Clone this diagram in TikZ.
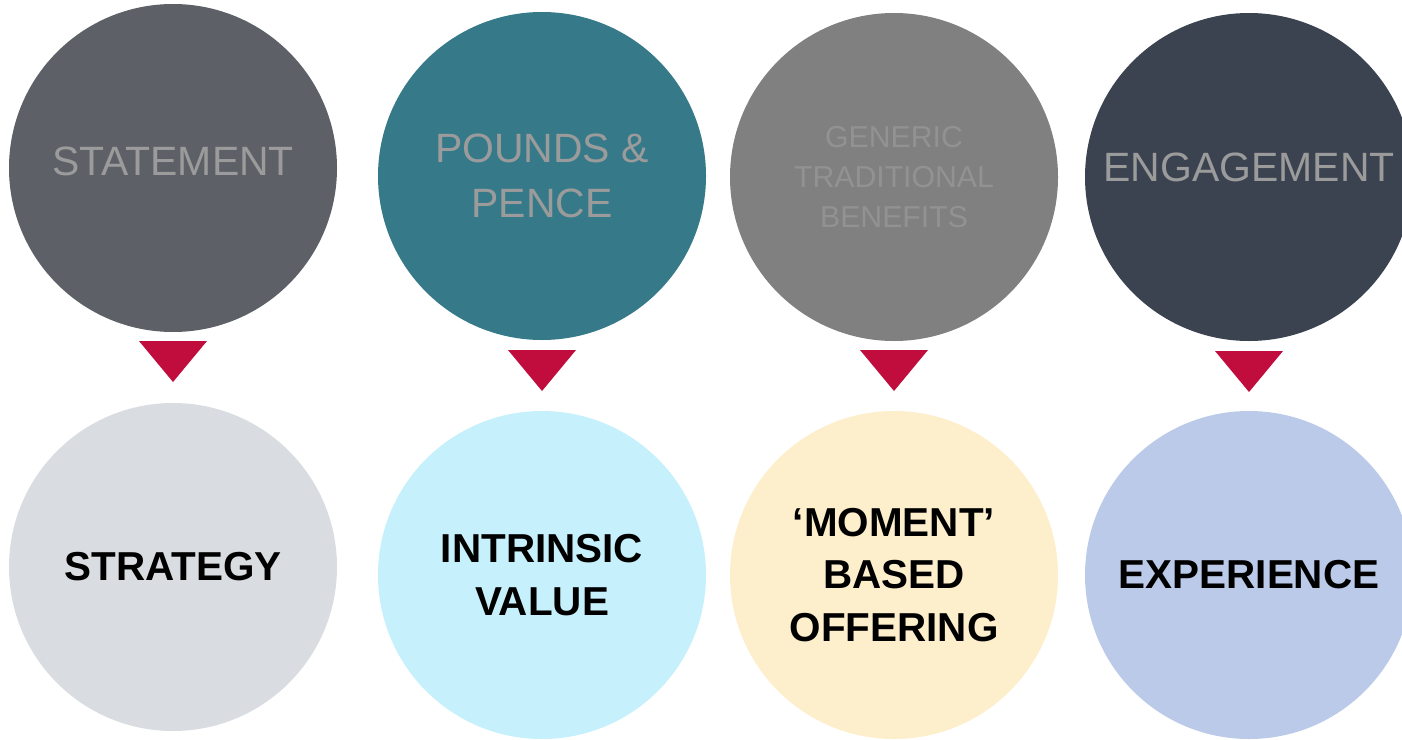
\documentclass[tikz,border=0pt]{standalone}
\usepackage{fontspec}
\setmainfont{Liberation Sans}
\usepackage{xcolor}
\usepackage{tikz}
\usetikzlibrary{shapes}
\usetikzlibrary{positioning}
\definecolor{statement}{HTML}{5D6066}
\definecolor{pounds}{HTML}{367A89}
\definecolor{generic}{HTML}{808080}
\definecolor{engagement}{HTML}{3B4250}
\definecolor{strategy}{HTML}{D9DCE1}
\definecolor{intrinsic}{HTML}{C6F1FC}
\definecolor{moment}{HTML}{FEEFCC}
\definecolor{experience}{HTML}{BACAE8}
\definecolor{arrowred}{HTML}{C00D3D}
\definecolor{toptext}{HTML}{9B9B9B}
\tikzstyle{topcircle} = [circle, minimum size=6.56cm, inner sep=0pt, outer sep=0pt,
text=toptext, align=center, font=\fontsize{23.3}{31}\selectfont]
\tikzstyle{botcircle} = [circle, minimum size=6.56cm, inner sep=0pt, outer sep=0pt,
text=black, align=center, font=\fontsize{23}{30}\selectfont\bfseries]
\tikzstyle{pointer} = [isosceles triangle, isosceles triangle stretches,
shape border rotate=270, fill=arrowred, minimum width=1.36cm,
minimum height=0.82cm, inner sep=0pt, outer sep=0pt]

\begin{document}
\begin{tikzpicture}
  \useasboundingbox (0,0) rectangle (28.04,-14.78);
  % top row
  \node[topcircle, fill=statement, text depth=0.26cm] (S1) at (3.46,-3.36) {STATEMENT};
  \node[topcircle, fill=pounds, right = 0.82cm of S1, yshift = -0.16cm] (S2) {POUNDS \&\\PENCE};
  \node[topcircle, fill=generic, right = 0.48cm of S2, yshift = -0.02cm,
    text=toptext!94!black, font=\fontsize{17.2}{22.7}\selectfont] (S3) {GENERIC\\TRADITIONAL\\BENEFITS};
  \node[topcircle, fill=engagement, right = 0.54cm of S3, text depth=0.4cm] (S4) {ENGAGEMENT};
  % pointers
  \node[pointer, below = 0.18cm of S1] (T1) {};
  \node[pointer, below = 0.2cm of S2] (T2) {};
  \node[pointer, below = 0.18cm of S3] (T3) {};
  \node[pointer, below = 0.2cm of S4] (T4) {};
  % bottom row
  \node[botcircle, fill=strategy, below = 1.42cm of S1] (B1) {STRATEGY};
  \node[botcircle, fill=intrinsic, below = 1.42cm of S2] (B2) {INTRINSIC\\VALUE};
  \node[botcircle, fill=moment, below = 1.40cm of S3] (B3) {‘MOMENT’\\BASED\\OFFERING};
  \node[botcircle, fill=experience, below = 1.40cm of S4] (B4) {EXPERIENCE};
\end{tikzpicture}
\end{document}
